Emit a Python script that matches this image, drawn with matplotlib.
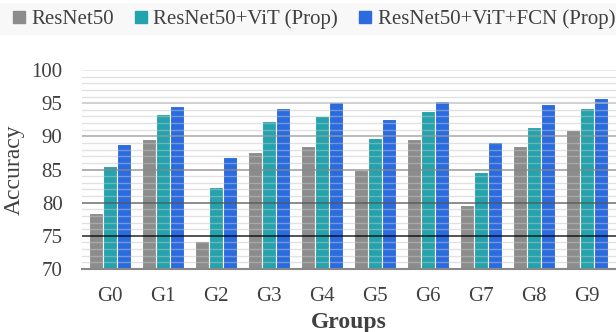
import matplotlib.pyplot as plt
from matplotlib.patches import Rectangle
import numpy as np

plt.rcParams['font.family'] = ['Liberation Serif', 'DejaVu Serif']

groups = ['G0', 'G1', 'G2', 'G3', 'G4', 'G5', 'G6', 'G7', 'G8', 'G9']
resnet = [78.5, 89.6, 74.2, 87.7, 88.6, 84.9, 89.6, 79.7, 88.5, 90.9]
resnet_vit = [85.5, 93.4, 82.3, 92.3, 93.1, 89.8, 93.8, 84.6, 91.4, 94.3]
resnet_vit_fcn = [88.8, 94.6, 86.9, 94.3, 95.2, 92.6, 95.4, 89.2, 94.9, 95.8]
series_names = ['ResNet50', 'ResNet50+ViT (Prop)', 'ResNet50+ViT+FCN (Prop)']
colores = ['#8c8c8c', '#22a3ad', '#2b6be0']

fig = plt.figure(figsize=(6.16, 3.32), dpi=100)
ax = fig.add_axes([82/616, 63/332, 1 - 82/616, 199/332])

x = np.arange(len(groups))
w = 0.265
for k, (vals, c, nome) in enumerate(zip([resnet, resnet_vit, resnet_vit_fcn], colores, series_names)):
    ax.bar(x + (k - 1) * w, np.array(vals) - 70, w, bottom=70, color=c,
           edgecolor='white', linewidth=0.8, zorder=2, label=nome)

# linhas de grade por cima das barras
for v in range(71, 100):
    if v % 5:
        ax.axhline(v, color='#c4c4c4', lw=1, alpha=0.5, zorder=3)
major = {75: '#000000', 80: '#555555', 85: '#888888', 90: '#999999', 95: '#bbbbbb', 100: '#dddddd'}
for v, c in major.items():
    ax.axhline(v, color=c, lw=1.1, alpha=0.85, zorder=3)

ax.set_ylim(70, 100)
ax.set_xlim(-0.53, 9.55)
ax.set_yticks([70, 75, 80, 85, 90, 95, 100])
ax.set_xticks(x)
ax.set_xticklabels(groups)
ax.tick_params(length=0, labelsize=15, colors='#404040')
ax.tick_params(axis='y', pad=14)
ax.tick_params(axis='x', pad=13)
for s in ['top', 'right', 'left']:
    ax.spines[s].set_visible(False)
ax.spines['bottom'].set_color('#888888')
ax.spines['bottom'].set_linewidth(1.5)
ax.spines['bottom'].set_zorder(4)

ax.set_ylabel('Accuracy', fontsize=17, color='#404040', labelpad=5)
ax.set_xlabel('Groups', fontsize=17, fontweight='bold', color='#404040', labelpad=4)

# faixa do legenda
fig.patches.append(Rectangle((0, 1 - 35/332), 1, 32/332, transform=fig.transFigure,
                             facecolor='#f8f8f8', edgecolor='none', zorder=0))
handles = [plt.Line2D([], [], marker='s', ls='', color=c, markersize=8) for c in colores]
fig.legend(handles, series_names, loc='center left', bbox_to_anchor=(0.0, 1 - 19/332),
           ncol=3, frameon=False, fontsize=15, handletextpad=0.1, columnspacing=0.8,
           handlelength=1.0, borderaxespad=0, labelcolor='#404040')

fig.savefig('out.png', dpi=100)
